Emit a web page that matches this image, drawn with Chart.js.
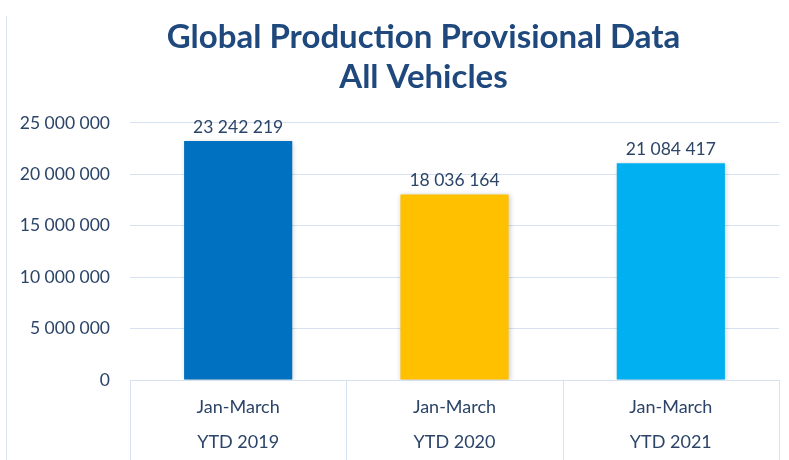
<!DOCTYPE html>
<html>
<head>
<meta charset="utf-8">
<script src="https://cdn.jsdelivr.net/npm/chart.js@4.4.1/dist/chart.umd.min.js"></script>
<style>
    html, body { margin: 0; padding: 0; background: #fff; }
    #wrap { position: relative; width: 789px; height: 460px; }
    #wrap::before { content: ''; position: absolute; left: 6px; top: 16px; bottom: 0; border-left: 1px solid #d9e4f2; }
</style>
</head>
<body>
<div id="wrap"><canvas id="chartProducao" width="789" height="460"></canvas></div>
<script>
// Dados do gráfico
const periodos = ['Jan-March', 'Jan-March', 'Jan-March'];
const anos = ['YTD 2019', 'YTD 2020', 'YTD 2021'];
const producao = [23242219, 18036164, 21084417];
const ticksY = [0, 5000000, 10000000, 15000000, 20000000, 25000000];

const CORES = {
    barras: ['#0070C0', '#FFC000', '#00B0F0'],
    titulo: '#1F497D',
    texto: '#2B4468',
    grade: '#D6E2F2'
};

const FONTE = "Lato, 'Open Sans', sans-serif";

function formatarNumero(v) {
    return String(v).replace(/\B(?=(\d{3})+(?!\d))/g, ' ');
}

// rótulos acima das barras
const rotulosPlugin = {
    id: 'rotulos',
    afterDatasetsDraw(chart) {
        const ctx = chart.ctx;
        const meta = chart.getDatasetMeta(0);
        ctx.save();
        ctx.font = '17.5px ' + FONTE;
        ctx.fillStyle = CORES.texto;
        ctx.textAlign = 'center';
        ctx.textBaseline = 'bottom';
        meta.data.forEach((bar, i) => {
            ctx.fillText(formatarNumero(chart.data.datasets[0].data[i]), bar.x, bar.y - 5);
        });
        ctx.restore();
    }
};

// sombra leve nas barras
const sombraPlugin = {
    id: 'sombra',
    beforeDatasetsDraw(chart) {
        const ctx = chart.ctx;
        ctx.save();
        ctx.shadowColor = 'rgba(0,0,0,0.22)';
        ctx.shadowBlur = 5;
        ctx.shadowOffsetX = 1;
        ctx.shadowOffsetY = 1;
    },
    afterDatasetsDraw(chart) {
        chart.ctx.restore();
    }
};

// separadores verticais da tabela de categorias
const separadoresPlugin = {
    id: 'separadores',
    afterDraw(chart) {
        const ctx = chart.ctx;
        const x = chart.scales.x;
        const n = chart.data.labels.length;
        const passo = (x.right - x.left) / n;
        ctx.save();
        ctx.strokeStyle = CORES.grade;
        ctx.lineWidth = 1;
        for (let i = 0; i <= n; i++) {
            const px = Math.round(x.left + passo * i) + 0.5;
            ctx.beginPath();
            ctx.moveTo(px, chart.chartArea.bottom);
            ctx.lineTo(px, chart.height);
            ctx.stroke();
        }
        ctx.restore();
    }
};

// título um pouco deslocado para a direita, como no original
const tituloPlugin = {
    id: 'deslocaTitulo',
    afterLayout(chart) {
        if (chart.titleBlock) chart.titleBlock.left = chart.chartArea.left - 62;
    }
};

const ctx = document.getElementById('chartProducao').getContext('2d');
new Chart(ctx, {
    type: 'bar',
    data: {
        labels: periodos.map((p, i) => [p, anos[i]]),
        datasets: [{
            data: producao,
            backgroundColor: CORES.barras,
            borderWidth: 0,
            barPercentage: 0.5,
            categoryPercentage: 1
        }]
    },
    options: {
        responsive: false,
        animation: false,
        layout: { padding: { left: 8, right: 10, top: 0, bottom: 0 } },
        plugins: {
            legend: { display: false },
            tooltip: { enabled: false },
            title: {
                display: true,
                text: ['Global Production Provisional Data', 'All Vehicles'],
                color: CORES.titulo,
                font: { family: FONTE, size: 33, weight: 'bold', lineHeight: 1.21 },
                padding: { top: 17, bottom: 26 }
            }
        },
        scales: {
            x: {
                afterFit: (scale) => { scale.height = 80; },
                grid: { display: false, drawTicks: false },
                border: { display: true, color: CORES.grade, width: 1 },
                ticks: {
                    color: CORES.texto,
                    font: { family: FONTE, size: 18, lineHeight: 1.95 },
                    padding: 10,
                    maxRotation: 0
                }
            },
            y: {
                min: 0,
                max: 25000000,
                afterBuildTicks: (scale) => { scale.ticks = ticksY.map(v => ({ value: v })); },
                afterFit: (scale) => { scale.width = 122; },
                grid: { color: CORES.grade, drawTicks: false },
                border: { display: false },
                ticks: {
                    color: CORES.texto,
                    font: { family: FONTE, size: 17.5 },
                    padding: 20,
                    callback: (v) => formatarNumero(v)
                }
            }
        }
    },
    plugins: [sombraPlugin, rotulosPlugin, separadoresPlugin, tituloPlugin]
});
</script>
</body>
</html>
